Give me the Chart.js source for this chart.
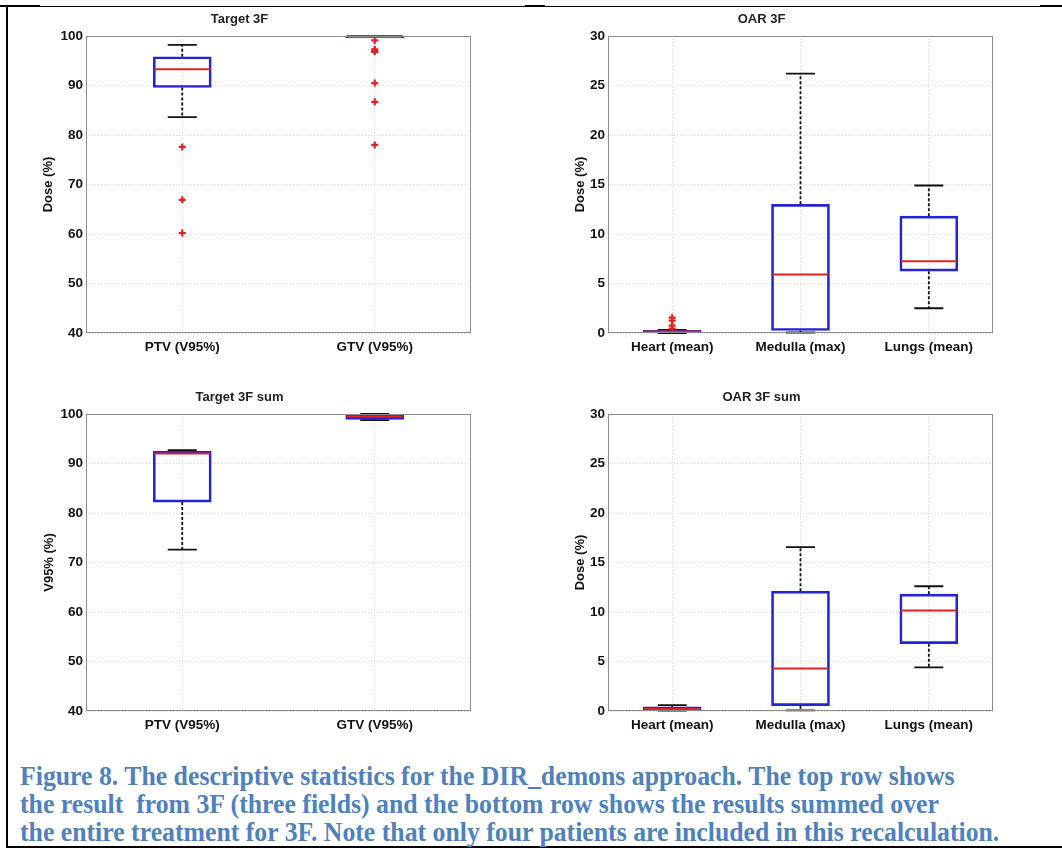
<!DOCTYPE html>
<html>
<head>
<meta charset="utf-8">
<script src="https://cdn.jsdelivr.net/npm/chart.js@4.4.0/dist/chart.umd.min.js"></script>
<style>
  body { margin: 0; background: #fff; width: 1062px; height: 850px; position: relative; overflow: hidden; }
  canvas { position: absolute; }
  .linha { position: absolute; background: #000; }
  #legenda {
    position: absolute; left: 20px; top: 762px;
    font-family: 'Liberation Serif', 'DejaVu Serif', serif; font-weight: bold;
    font-size: 28px; line-height: 28px; color: #4f81bd; white-space: pre;
    transform: scaleX(0.92); transform-origin: 0 0;
  }
</style>
</head>
<body>
<div class="linha" style="left:6px;top:6px;width:1056px;height:1px"></div>
<div class="linha" style="left:0;top:5px;width:40px;height:2px"></div>
<div class="linha" style="left:525px;top:5px;width:20px;height:2px"></div>
<div class="linha" style="left:1040px;top:5px;width:22px;height:2px"></div>
<div class="linha" style="left:6px;top:6px;width:2px;height:841px"></div>
<div class="linha" style="left:6px;top:846px;width:1056px;height:2px"></div>

<canvas id="alvo3f" width="500" height="360" style="left:8px;top:6px"></canvas>
<canvas id="oar3f" width="500" height="360" style="left:530px;top:6px"></canvas>
<canvas id="alvo3fSum" width="500" height="360" style="left:8px;top:384px"></canvas>
<canvas id="oar3fSum" width="500" height="360" style="left:530px;top:384px"></canvas>

<div id="legenda">Figure 8. The descriptive statistics for the DIR_demons approach. The top row shows
the result  from 3F (three fields) and the bottom row shows the results summed over
the entire treatment for 3F. Note that only four patients are included in this recalculation.</div>

<script>
// categorias
const targetLabels = ['PTV (V95%)', 'GTV (V95%)'];
const oarLabels = ['Heart (mean)', 'Medulla (max)', 'Lungs (mean)'];

// Target 3F
const target3fLow = [83.6, 100];
const target3fQ1 = [89.6, 99.6];
const target3fMedian = [93.3, 100];
const target3fQ3 = [95.8, 100];
const target3fHigh = [98.2, 100];
const target3fOutliers = [[77.6, 66.9, 60.2], [99.1, 97.3, 97.0, 96.8, 90.5, 86.7, 78.0]];

// OAR 3F
const oar3fLow = [0.0, 0.05, 2.5];
const oar3fQ1 = [0.05, 0.25, 6.25];
const oar3fMedian = [0.15, 5.9, 7.25];
const oar3fQ3 = [0.28, 13.0, 11.8];
const oar3fHigh = [0.32, 26.2, 14.9];
const oar3fOutliers = [[1.55, 1.25, 0.75, 0.45], [], []];

// Target 3F sum
const target3fSumLow = [72.6, 98.75];
const target3fSumQ1 = [82.2, 98.9];
const target3fSumMedian = [92.0, 99.5];
const target3fSumQ3 = [92.5, 100];
const target3fSumHigh = [92.7, 100];
const target3fSumOutliers = [[], []];

// OAR 3F sum
const oar3fSumLow = [0.05, 0.07, 4.4];
const oar3fSumQ1 = [0.1, 0.54, 6.8];
const oar3fSumMedian = [0.2, 4.3, 10.15];
const oar3fSumQ3 = [0.42, 12.1, 11.8];
const oar3fSumHigh = [0.6, 16.55, 12.6];
const oar3fSumOutliers = [[], [], []];

// ticks dos eixos y
const targetYTicks = { min: 40, max: 100, step: 10 };
const oarYTicks = { min: 0, max: 30, step: 5 };

const fonte = "'Liberation Sans', Arial, sans-serif";

// desenha bigodes, medianas e moldura
const boxPlugin = {
  id: 'boxplot',
  beforeDatasetsDraw(chart, args, opts) {
    const ctx = chart.ctx;
    const x = chart.scales.x;
    const y = chart.scales.y;
    ctx.save();
    ctx.strokeStyle = '#111';
    ctx.lineWidth = 1.8;
    for (let i = 0; i < opts.low.length; i++) {
      const cx = x.getPixelForValue(i);
      const yl = y.getPixelForValue(opts.low[i]);
      const yq1 = y.getPixelForValue(opts.q1[i]);
      const yq3 = y.getPixelForValue(opts.q3[i]);
      const yh = y.getPixelForValue(opts.high[i]);
      ctx.setLineDash([3, 2]);
      ctx.beginPath();
      ctx.moveTo(cx, yq3); ctx.lineTo(cx, yh);
      ctx.moveTo(cx, yq1); ctx.lineTo(cx, yl);
      ctx.stroke();
      ctx.setLineDash([]);
      ctx.beginPath();
      ctx.moveTo(cx - 14.5, yh); ctx.lineTo(cx + 14.5, yh);
      ctx.moveTo(cx - 14.5, yl); ctx.lineTo(cx + 14.5, yl);
      ctx.stroke();
    }
    ctx.restore();
  },
  afterDatasetsDraw(chart, args, opts) {
    const ctx = chart.ctx;
    const x = chart.scales.x;
    const y = chart.scales.y;
    const area = chart.chartArea;
    ctx.save();
    ctx.strokeStyle = '#e02222';
    ctx.lineWidth = 2;
    for (let i = 0; i < opts.median.length; i++) {
      const cx = x.getPixelForValue(i);
      const ym = y.getPixelForValue(opts.median[i]);
      ctx.beginPath();
      ctx.moveTo(cx - 28, ym); ctx.lineTo(cx + 28, ym);
      ctx.stroke();
    }
    ctx.strokeStyle = '#8c8c8c';
    ctx.lineWidth = 1;
    ctx.strokeRect(area.left + 0.5, area.top + 0.5, area.right - area.left - 1, area.bottom - area.top - 1);
    ctx.restore();
  }
};

function criarBoxplot(id, titulo, tituloY, padY, labels, eixo, low, q1, median, q3, high, outliers) {
  let caixas = [];
  let pontos = [];
  for (let i = 0; i < labels.length; i++) {
    caixas.push([q1[i], q3[i]]);
    outliers[i].forEach(function (v) {
      pontos.push({ x: labels[i], y: v });
    });
  }

  new Chart(document.getElementById(id), {
    type: 'bar',
    data: {
      labels: labels,
      datasets: [
        {
          type: 'line',
          data: pontos,
          showLine: false,
          pointStyle: 'cross',
          pointRadius: 3.5,
          pointBorderWidth: 2.2,
          borderColor: '#e02222',
          pointBorderColor: '#e02222',
          order: 0
        },
        {
          type: 'bar',
          data: caixas,
          backgroundColor: 'rgba(0,0,0,0)',
          borderColor: '#2424d6',
          borderWidth: 2,
          borderSkipped: false,
          barThickness: 58,
          order: 1
        }
      ]
    },
    options: {
      responsive: false,
      animation: false,
      layout: { padding: { left: 0, right: 37, top: 0, bottom: 0 } },
      plugins: {
        legend: { display: false },
        tooltip: { enabled: false },
        title: {
          display: true,
          text: titulo,
          color: '#222',
          font: { family: fonte, size: 13, weight: 'bold' },
          padding: { top: 6, bottom: 8.4 }
        },
        boxplot: { low: low, q1: q1, median: median, q3: q3, high: high }
      },
      scales: {
        x: {
          grid: { offset: false, color: '#d6d6d6', drawTicks: false },
          border: { display: false, dash: [1, 2] },
          ticks: { color: '#111', padding: 6, font: { family: fonte, size: 13.5, weight: 'bold' } },
          afterFit: function (s) { s.height = 33; }
        },
        y: {
          min: eixo.min,
          max: eixo.max,
          grid: { color: '#d6d6d6', drawTicks: false },
          border: { display: false, dash: [1, 2] },
          ticks: { stepSize: eixo.step, color: '#111', padding: 3, font: { family: fonte, size: 13.5, weight: 'bold' } },
          title: {
            display: true,
            text: tituloY,
            color: '#111',
            font: { family: fonte, size: 13, weight: 'bold' },
            padding: { top: padY, bottom: 0 }
          },
          afterFit: function (s) { s.width = 78; }
        }
      }
    },
    plugins: [boxPlugin]
  });
}

criarBoxplot('alvo3f', 'Target 3F', 'Dose (%)', 33, targetLabels, targetYTicks,
  target3fLow, target3fQ1, target3fMedian, target3fQ3, target3fHigh, target3fOutliers);
criarBoxplot('oar3f', 'OAR 3F', 'Dose (%)', 43, oarLabels, oarYTicks,
  oar3fLow, oar3fQ1, oar3fMedian, oar3fQ3, oar3fHigh, oar3fOutliers);
criarBoxplot('alvo3fSum', 'Target 3F sum', 'V95% (%)', 34, targetLabels, targetYTicks,
  target3fSumLow, target3fSumQ1, target3fSumMedian, target3fSumQ3, target3fSumHigh, target3fSumOutliers);
criarBoxplot('oar3fSum', 'OAR 3F sum', 'Dose (%)', 43, oarLabels, oarYTicks,
  oar3fSumLow, oar3fSumQ1, oar3fSumMedian, oar3fSumQ3, oar3fSumHigh, oar3fSumOutliers);
</script>
</body>
</html>
